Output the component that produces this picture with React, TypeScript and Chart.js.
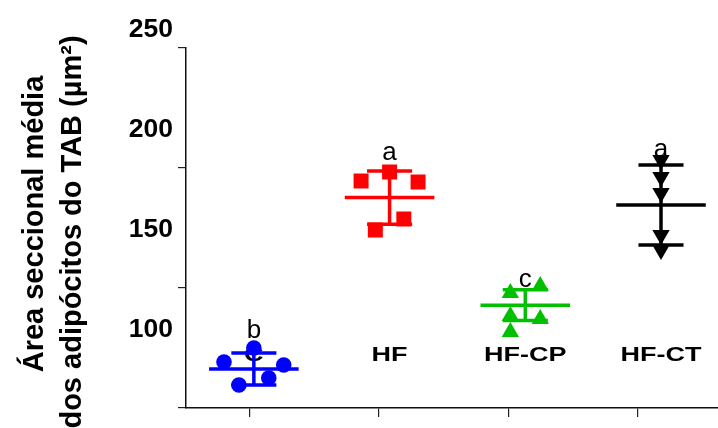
import React, { useEffect, useRef } from 'react';
import { Chart, registerables } from 'chart.js';

Chart.register(...registerables);

// ---- data ----
const categories = ['C', 'HF', 'HF-CP', 'HF-CT'];
const sigLetters = ['b', 'a', 'c', 'a'];
const sigLetterLevels = [95, 184, 120.5, 185.5];
const yTickLabels = [100, 150, 200, 250];
const yTickMarks = [60, 120, 180, 240];
const xTickMarks = [-0.03, 0.92, 1.88, 2.83];

const cValues = [83, 71.5, 90, 75, 81.5];
const cOffsets = [-0.22, -0.11, 0, 0.11, 0.22];
const hfValues = [173.5, 149, 178, 154.5, 173];
const hfOffsets = [-0.21, -0.105, 0, 0.105, 0.21];
const hfcpValues = [117.5, 106, 98, 121, 104.5];
const hfcpOffsets = [-0.11, -0.11, -0.11, 0.11, 0.11];
const hfctValues = [184, 175.5, 167.5, 146.5, 139];
const hfctOffsets = [0, 0, 0, 0, 0];

const means = [79.5, 165.2, 111.4, 161.5];
const sds = [8, 13.3, 7.7, 20];

const titleLines = ['Área seccional média', 'dos adipócitos do TAB (µm²)'];

// ---- styles ----
const colors = ['#0000ff', '#ff0000', '#00c000', '#000000'];
const pointStyles = ['circle', 'rect', 'triangle', 'triangle'];
const pointRadii = [7.8, 10.6, 10, 10];
const pointRotations = [0, 0, 0, 180];
const FONT = '"Liberation Sans", Arial, Helvetica, sans-serif';

const groupValues = [cValues, hfValues, hfcpValues, hfctValues];
const groupOffsets = [cOffsets, hfOffsets, hfcpOffsets, hfctOffsets];

function stretchedText(ctx: any, text: string, x: number, y: number, sx: number) {
  ctx.save();
  ctx.translate(x, y);
  ctx.scale(sx, 1);
  ctx.fillText(text, 0, 0);
  ctx.restore();
}

const textPlugin = {
  id: 'customTexts',
  beforeDatasetsDraw(chart: any) {
    const { ctx, chartArea } = chart;
    const x = chart.scales.x;
    const y = chart.scales.y;
    ctx.save();
    ctx.fillStyle = '#000';
    ctx.textAlign = 'center';
    ctx.textBaseline = 'alphabetic';
    ctx.font = `bold 20px ${FONT}`;
    categories.forEach((c, i) => {
      stretchedText(ctx, c, x.getPixelForValue(i), chartArea.bottom - 47, 1.35);
    });
    ctx.font = `26px ${FONT}`;
    sigLetters.forEach((l, i) => {
      ctx.fillText(l, x.getPixelForValue(i), y.getPixelForValue(sigLetterLevels[i]));
    });
    ctx.restore();
  },
  afterDraw(chart: any) {
    const { ctx, chartArea } = chart;
    const y = chart.scales.y;
    ctx.save();
    ctx.fillStyle = '#000';
    ctx.textAlign = 'right';
    ctx.textBaseline = 'alphabetic';
    ctx.font = `bold 25px ${FONT}`;
    yTickLabels.forEach((v) => {
      stretchedText(ctx, String(v), chartArea.left - 13, y.getPixelForValue(v) + 9, 1.06);
    });
    ctx.font = `bold 29px ${FONT}`;
    ctx.textAlign = 'center';
    const pos = [
      [43, 224],
      [81, 232],
    ];
    titleLines.forEach((t, i) => {
      ctx.save();
      ctx.translate(pos[i][0], pos[i][1]);
      ctx.rotate(-Math.PI / 2);
      ctx.fillText(t, 0, 0);
      ctx.restore();
    });
    ctx.restore();
  },
};

function buildDatasets() {
  const ds: any[] = [];
  groupValues.forEach((vals, i) => {
    ds.push({
      type: 'scatter',
      data: vals.map((v, j) => ({ x: i + groupOffsets[i][j], y: v })),
      pointStyle: pointStyles[i],
      pointRadius: pointRadii[i],
      pointRotation: pointRotations[i],
      backgroundColor: colors[i],
      borderColor: colors[i],
      pointBackgroundColor: colors[i],
      pointBorderColor: colors[i],
      pointBorderWidth: 0,
      borderWidth: 0,
    });
  });
  means.forEach((m, i) => {
    const s = sds[i];
    const segs = [
      [{ x: i - 0.33, y: m }, { x: i + 0.33, y: m }],
      [{ x: i - 0.166, y: m + s }, { x: i + 0.166, y: m + s }],
      [{ x: i - 0.166, y: m - s }, { x: i + 0.166, y: m - s }],
      [{ x: i, y: m - s }, { x: i, y: m + s }],
    ];
    segs.forEach((seg) => {
      ds.push({
        type: 'scatter',
        data: seg,
        showLine: true,
        pointRadius: 0,
        borderColor: colors[i],
        backgroundColor: colors[i],
        borderWidth: 3.5,
      });
    });
  });
  return ds;
}

export default function App() {
  const ref = useRef<HTMLCanvasElement | null>(null);
  useEffect(() => {
    document.body.style.margin = '0';
    const canvas = ref.current;
    if (!canvas) return;
    const chart = new Chart(canvas, {
      type: 'scatter',
      data: { datasets: buildDatasets() },
      options: {
        responsive: false,
        animation: false,
        layout: { autoPadding: false, padding: { top: 48, left: 0, right: 0, bottom: 0 } },
        plugins: { legend: { display: false }, tooltip: { enabled: false } },
        scales: {
          x: {
            type: 'linear',
            min: -0.5,
            max: 3.42,
            afterBuildTicks: (s: any) => {
              s.ticks = xTickMarks.map((v) => ({ value: v }));
            },
            afterFit: (s: any) => {
              s.height = 20;
              s.paddingLeft = 0;
              s.paddingRight = 0;
            },
            ticks: { display: false },
            grid: { drawOnChartArea: false, drawTicks: true, tickLength: 9, color: '#222', lineWidth: 1.2 },
            border: { display: true, color: '#111', width: 1.5 },
          },
          y: {
            type: 'linear',
            min: 60,
            max: 240,
            afterBuildTicks: (s: any) => {
              s.ticks = yTickMarks.map((v) => ({ value: v }));
            },
            afterFit: (s: any) => {
              s.width = 186;
              s.paddingTop = 0;
              s.paddingBottom = 0;
            },
            ticks: { display: false },
            grid: { drawOnChartArea: false, drawTicks: true, tickLength: 8, color: '#222', lineWidth: 1.2 },
            border: { display: true, color: '#111', width: 1.5 },
          },
        },
      },
      plugins: [textPlugin],
    } as any);
    return () => chart.destroy();
  }, []);
  return (
    <canvas ref={ref} width={718} height={428} style={{ display: 'block', width: 718, height: 428 }} />
  );
}
